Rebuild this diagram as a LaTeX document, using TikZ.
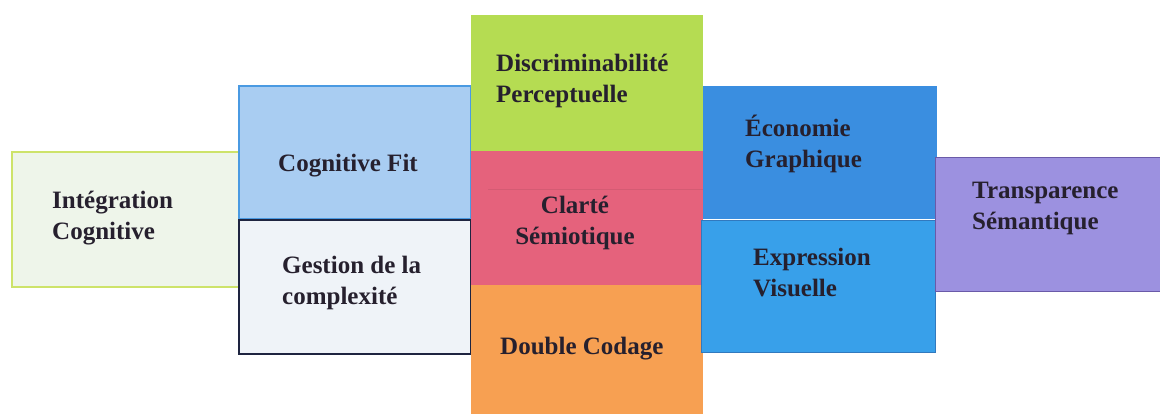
\documentclass[tikz,border=0pt]{standalone}
\usepackage{fontspec}
\setmainfont{Liberation Serif}
\definecolor{icfill}{HTML}{EEF5EA}
\definecolor{icdraw}{HTML}{CDE36A}
\definecolor{cffill}{HTML}{A9CDF2}
\definecolor{cfdraw}{HTML}{4A9AE2}
\definecolor{gcfill}{HTML}{EFF3F8}
\definecolor{gcdraw}{HTML}{1E2440}
\definecolor{dpfill}{HTML}{B5DC52}
\definecolor{csfill}{HTML}{E5627C}
\definecolor{dcfill}{HTML}{F7A052}
\definecolor{egfill}{HTML}{3A8EE0}
\definecolor{evfill}{HTML}{38A0EA}
\definecolor{tsfill}{HTML}{9C91E0}
\definecolor{tsdraw}{HTML}{6A5AA8}
\definecolor{txt}{HTML}{26202E}
\tikzset{
  box/.style={rectangle, anchor=north west, inner sep=0pt, outer sep=0pt, line width=1.2pt},
  lbl/.style={inner sep=0pt, anchor=west, align=left, text=txt,
    font=\fontsize{25}{31}\selectfont\bfseries},
}
\begin{document}
\begin{tikzpicture}[x=1pt,y=-1pt]
\useasboundingbox[fill=white] (0,0) rectangle (1160,414);
% left
\node[box, fill=icfill, draw=icdraw, line width=2pt, minimum width=228pt, minimum height=135pt] (ic) at (12,152) {};
\node[lbl] (icl) at (52,218) {Intégration\\Cognitive};
% second column
\node[box, fill=cffill, draw=cfdraw, minimum width=232pt, minimum height=133pt] (cf) at (239,86) {};
\node[lbl] (cfl) at (278,166) {Cognitive Fit};
\node[box, fill=gcfill, draw=gcdraw, minimum width=232pt, minimum height=134pt] (gc) at (239,220) {};
\node[lbl] (gcl) at (282,283) {Gestion de la\\complexité};
% middle column
\node[box, fill=dpfill, minimum width=232pt, minimum height=136pt] (dp) at (471,15) {};
\node[lbl] (dpl) at (496,81) {Discriminabilité\\Perceptuelle};
\node[box, fill=csfill, minimum width=232pt, minimum height=134pt] (cs) at (471,151) {};
\draw[csfill!80!black, line width=0.5pt, opacity=0.35] ([xshift=17pt,yshift=-38pt]cs.north west) -- ([yshift=-38pt]cs.north east);
\node[lbl, anchor=center, align=center] (csl) at (575,223) {Clarté\\Sémiotique};
\node[box, fill=dcfill, minimum width=232pt, minimum height=131pt] (dc) at (471,285) {};
\node[lbl] (dcl) at (500,349) {Double Codage};
% blue column
\node[box, fill=egfill, minimum width=234pt, minimum height=133pt] (eg) at (703,86) {};
\node[lbl] (egl) at (745,144) {Économie\\Graphique};
\node[box, fill=evfill, draw=egfill!85!black, line width=0.6pt, minimum width=234pt, minimum height=132pt] (ev) at (701,220) {};
\node[lbl] (evl) at (753,273) {Expression\\Visuelle};
% right
\node[box, fill=tsfill, draw=tsdraw, line width=0.6pt, minimum width=228pt, minimum height=134pt] (ts) at (935,157) {};
\node[lbl] (tsl) at (972,208) {Transparence\\Sémantique};
\end{tikzpicture}
\end{document}
